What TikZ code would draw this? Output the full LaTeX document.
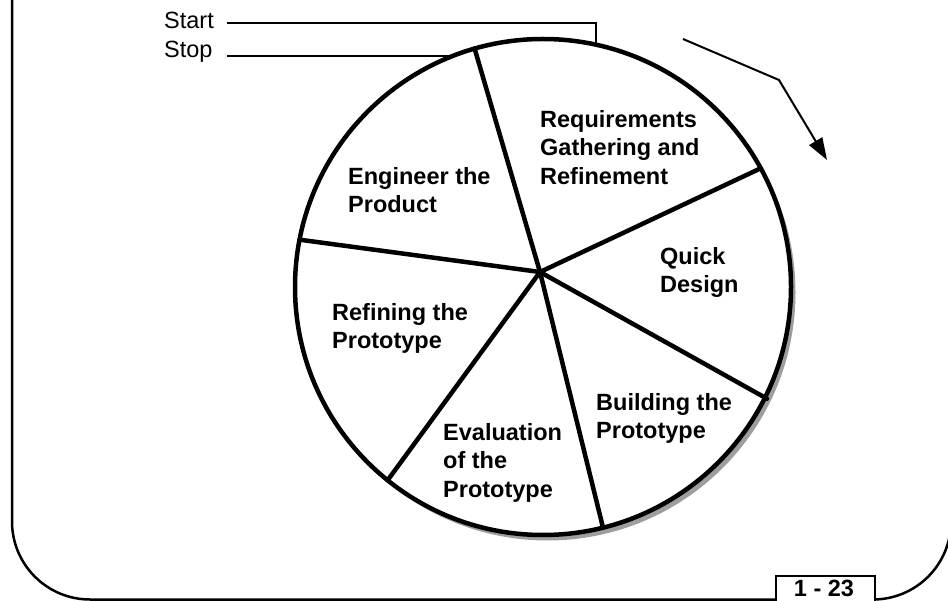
\documentclass[tikz,border=0pt]{standalone}
\usepackage{fontspec}
\setmainfont{Liberation Sans}
\usetikzlibrary{arrows.meta}
\tikzset{
  lbl/.style={anchor=north west, inner sep=0pt, align=left, font=\fontsize{23.5}{28.5}\selectfont\bfseries},
  plain/.style={anchor=base west, inner sep=0pt, font=\fontsize{23.5}{28.5}\selectfont},
  spoke/.style={line width=4.5pt, line cap=round},
  thinline/.style={line width=2pt},
  frameline/.style={line width=2.5pt},
}
\begin{document}
\begin{tikzpicture}[x=1pt, y=-1pt]
\useasboundingbox (0,0) rectangle (948,601);
\clip (0,0) rectangle (948,601);
% outer frame
\draw[frameline, rounded corners=78pt] (12,-30) -- (12,599.5) -- (951,599.5) -- (951,-30);
% coordinates
\coordinate (C) at (543,287);
\coordinate (H) at (540,272);
\coordinate (e1) at (474.6,48.6);
\coordinate (e2) at (760.7,168.3);
\coordinate (e3) at (767,398.7);
\coordinate (e4) at (603,527.6);
\coordinate (e5) at (387.6,480.3);
\coordinate (e6) at (299.6,239.7);
% start / stop
\node[plain] (start) at (164,29) {Start};
\node[plain] (stop) at (164,58) {Stop};
\coordinate (s1) at (227,23);
\coordinate (s2) at (596,23);
\coordinate (s3) at (596,50);
\coordinate (t1) at (227,56);
\coordinate (t2) at (455,56);
\draw[thinline] (s1) -- (s2) -- (s3);
\draw[thinline] (t1) -- (t2);
% shadow and wheel
\fill[black!38] ([shift={(4.5,5.5)}]C) circle[radius=248pt];
\fill[white] (C) circle[radius=248pt];
\foreach \e in {e1,e2,e3,e4,e5,e6} \draw[spoke] (H) -- (\e);
\draw[line width=4.5pt] (C) circle[radius=248pt];
% labels
\node[lbl] (req) at (540,110) {Requirements\\Gathering and\\Refinement};
\node[lbl] (eng) at (348,167) {Engineer the\\Product};
\node[lbl] (qd) at (660,247) {Quick\\Design};
\node[lbl] (ref) at (332,303) {Refining the\\Prototype};
\node[lbl] (bld) at (596,393) {Building the\\Prototype};
\node[lbl] (eval) at (443,423) {Evaluation\\of the\\Prototype};
% direction arrow
\coordinate (a1) at (683,39);
\coordinate (a2) at (779,80);
\coordinate (a3) at (827,160);
\draw[thinline, -{Triangle[length=22pt,width=15pt]}] (a1) -- (a2) -- (a3);
% page label
\node[draw, line width=2pt, fill=white, minimum width=99pt, minimum height=40pt, anchor=north west, inner sep=0pt] (pg) at (775,575) {};
\node[anchor=base, inner sep=0pt, font=\fontsize{23.5}{28.5}\selectfont\bfseries] (pgt) at (824,596.5) {1 - 23};
\end{tikzpicture}
\end{document}
